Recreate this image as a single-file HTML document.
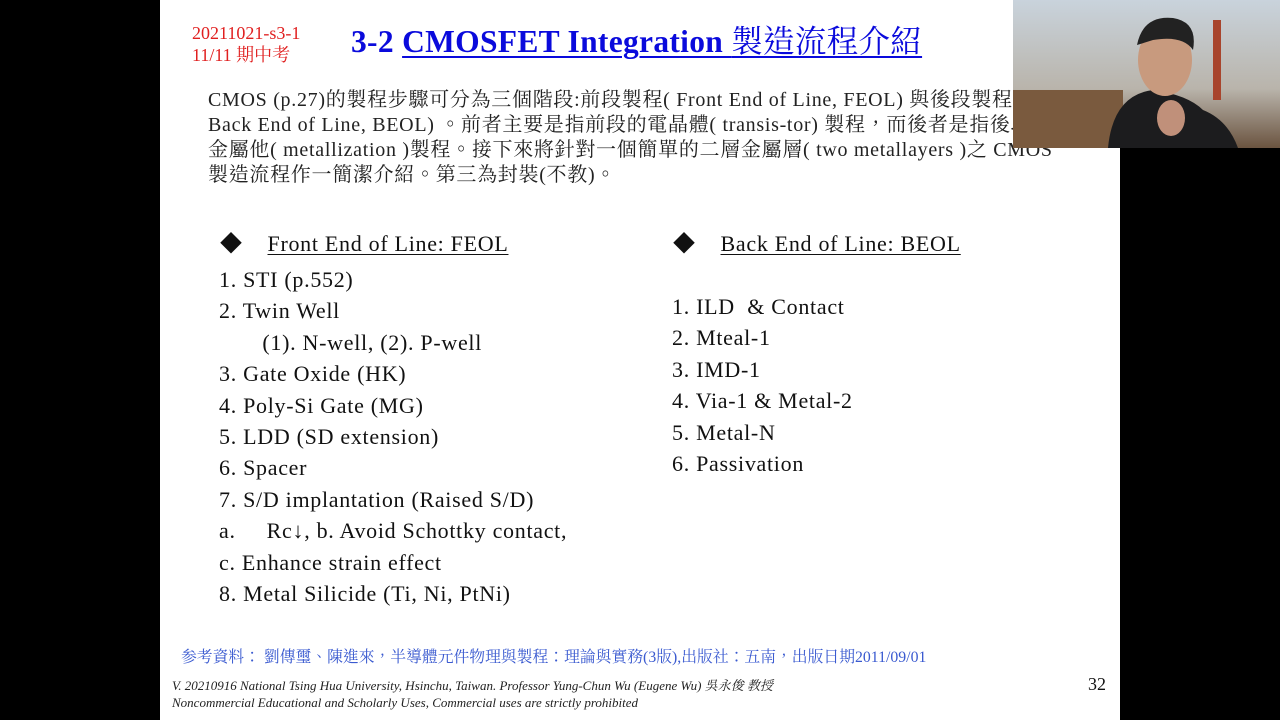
<!DOCTYPE html>
<html><head><meta charset="utf-8"><style>
body{margin:0;width:1280px;height:720px;background:#000;position:relative;overflow:hidden;font-family:"Liberation Serif","Noto Serif CJK SC",serif}
#slide{position:absolute;left:160px;top:0;width:960px;height:720px;background:#fff}
.a{position:absolute;white-space:nowrap;color:#111}
.cjk{font-family:"Liberation Serif","Noto Serif CJK TC","Noto Sans CJK TC",serif}
.li{font-size:22px;line-height:24px;letter-spacing:0.7px}
u{text-decoration:underline;text-decoration-thickness:1px;text-underline-offset:3px}
</style></head><body>
<div id="slide"></div>
<div class="a cjk" style="left:192px;top:22px;color:#e02020;font-size:18px;line-height:22px">20211021-s3-1<br>11/11 期中考</div>
<div class="a cjk" style="left:351px;top:23px;color:#0a0adc;font-size:31.5px;font-weight:bold;line-height:38px;letter-spacing:0.3px">3-2 <span style="text-decoration:underline;text-decoration-thickness:2px;text-underline-offset:4px">CMOSFET Integration <span style="font-weight:normal">製造流程介紹</span></span></div>
<div class="a cjk" style="left:208px;top:88px;font-size:20px;line-height:25px;color:#222;letter-spacing:0.7px">CMOS (p.27)的製程步驟可分為三個階段:前段製程( Front End of Line, FEOL) 與後段製程(<br>Back End of Line, BEOL) 。前者主要是指前段的電晶體( transis-tor) 製程，而後者是指後段<br>金屬他( metallization )製程。接下來將針對一個簡單的二層金屬層( two metallayers )之 CMOS<br>製造流程作一簡潔介紹。第三為封裝(不教)。</div>
<div class="a li" style="left:220px;top:232px">◆&nbsp;&nbsp;&nbsp;&nbsp;<u>Front End of Line: FEOL</u></div>
<div class="a li" style="left:219px;top:264px;line-height:31.4px">1. STI (p.552)<br>2. Twin Well<br>&nbsp;&nbsp;&nbsp;&nbsp;&nbsp;&nbsp;&nbsp;(1). N-well, (2). P-well<br>3. Gate Oxide (HK)<br>4. Poly-Si Gate (MG)<br>5. LDD (SD extension)<br>6. Spacer<br>7. S/D implantation (Raised S/D)<br>a.&nbsp;&nbsp;&nbsp;&nbsp;&nbsp;Rc↓, b. Avoid Schottky contact,<br>c. Enhance strain effect<br>8. Metal Silicide (Ti, Ni, PtNi)</div>
<div class="a li" style="left:673px;top:232px">◆&nbsp;&nbsp;&nbsp;&nbsp;<u>Back End of Line: BEOL</u></div>
<div class="a li" style="left:672px;top:291px;line-height:31.4px">1. ILD&nbsp;&nbsp;&amp; Contact<br>2. Mteal-1<br>3. IMD-1<br>4. Via-1 &amp; Metal-2<br>5. Metal-N<br>6. Passivation</div>
<div class="a cjk" style="left:181px;top:644px;font-size:15.8px;color:#3a5ad0">参考資料： 劉傳璽、陳進來，半導體元件物理與製程：理論與實務(3版),出版社：五南，出版日期2011/09/01</div>
<div class="a cjk" style="left:172px;top:677px;font-size:13px;font-style:italic;line-height:17px;color:#222">V. 20210916 National Tsing Hua University, Hsinchu, Taiwan. Professor Yung-Chun Wu (Eugene Wu) 吳永俊 教授<br>Noncommercial Educational and Scholarly Uses, Commercial uses are strictly prohibited</div>
<div class="a" style="left:1088px;top:674px;font-size:18px">32</div>
<svg style="position:absolute;left:1013px;top:0" width="267" height="148">
<defs><linearGradient id="s" x1="0" y1="0" x2="0" y2="1"><stop offset="0" stop-color="#c9d3dc"/><stop offset="0.6" stop-color="#b9b4ab"/><stop offset="1" stop-color="#6b5440"/></linearGradient></defs>
<rect width="267" height="148" fill="url(#s)"/>
<rect x="0" y="90" width="110" height="58" fill="#7a5a3e"/>
<rect x="200" y="20" width="8" height="80" fill="#a8442c"/>
<path d="M95 148 Q100 95 140 90 Q175 95 190 110 Q215 120 225 148Z" fill="#1c1c1e"/>
<ellipse cx="152" cy="60" rx="27" ry="36" fill="#c89a7e"/>
<path d="M124 45 Q130 15 160 18 Q185 22 180 50 Q170 35 140 40Z" fill="#222"/>
<ellipse cx="158" cy="118" rx="14" ry="18" fill="#c0907a"/>
</svg>
</body></html>
